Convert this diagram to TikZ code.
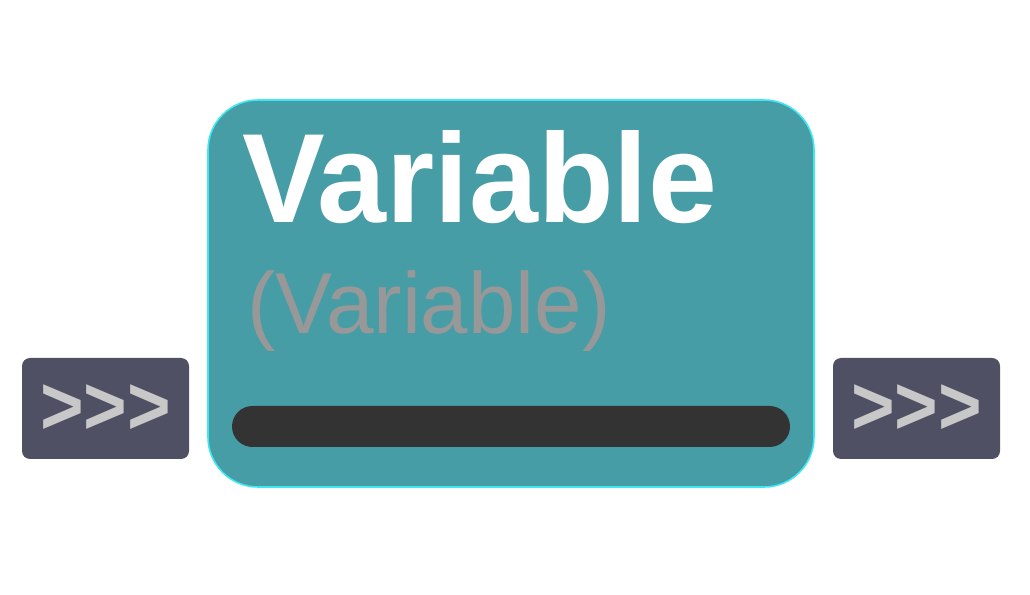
\documentclass[tikz,border=0pt]{standalone}
\usepackage{fontspec}
\setmainfont{Liberation Sans}
\newfontfamily\chevfont[Ligatures=TeXOff]{Liberation Sans}
\definecolor{mainfill}{HTML}{469DA6}
\definecolor{mainedge}{HTML}{3DE8F2}
\definecolor{portfill}{HTML}{505064}
\definecolor{chev}{HTML}{C8C8C8}
\definecolor{barfill}{HTML}{333333}
\definecolor{subgray}{HTML}{989898}
\tikzset{
  port/.style={fill=portfill, rounded corners=8pt},
  chevtext/.style={text=chev, inner sep=0pt, anchor=base, font=\chevfont\bfseries\fontsize{83}{90}\selectfont},
  mainbox/.style={fill=mainfill, draw=mainedge, line width=1.6pt, rounded corners=50pt},
  barbox/.style={fill=barfill, rounded corners=20.5pt},
  titletext/.style={text=white, inner sep=0pt, anchor=base west, font=\bfseries\fontsize{127}{130}\selectfont},
  subtext/.style={text=subgray, inner sep=0pt, anchor=base west, font=\fontsize{86.6}{90}\selectfont}
}
\begin{document}
\begin{tikzpicture}[x=1pt,y=1pt]
\useasboundingbox[fill=white] (0,0) rectangle (1030,594);
% left port
\path[port] (22,135) rectangle (189,236);
\node[chevtext] (inL) at (105.5,159.3) {\scalebox{0.9}[1]{>>>}};
% right port
\path[port] (833,135) rectangle (1000,236);
\node[chevtext] (outR) at (916.5,159.3) {\scalebox{0.9}[1]{>>>}};
% main box
\path[mainbox] (208,107) rectangle (814,494);
\node[titletext] (title) at (242,371) {\scalebox{0.975}[1]{Variable}};
\node[subtext] (sub) at (247,260) {\scalebox{0.985}[1]{(Variable)}};
\path[barbox] (232,147) rectangle (790,188);
\end{tikzpicture}
\end{document}
